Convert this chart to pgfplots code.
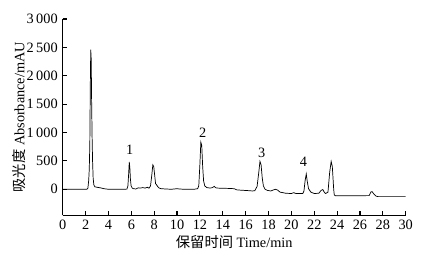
\documentclass[border=0pt]{standalone}
\usepackage{pgfplots}
\pgfplotsset{compat=1.18}
\usepackage{fontspec}
\setmainfont{Liberation Serif}
\newfontfamily\cjk{Noto Sans CJK SC}
\begin{document}
\begin{tikzpicture}
\begin{axis}[
  name=ax,
  scale only axis,
  width=240pt, height=137.4pt,
  xmin=0, xmax=30, ymin=-460, ymax=3000,
  axis x line*=bottom, axis y line*=left,
  axis line style={line width=0.8pt},
  xtick={0,2,...,30}, ytick={0,500,...,3000},
  tick align=inside,
  major tick length=3pt,
  tick style={line width=0.8pt, black},
  /pgf/number format/assume math mode=true,
  /pgf/number format/1000 sep={\,},
  tick label style={font=\fontsize{10}{12}\selectfont},
  xlabel={{\cjk 保留时间} Time/min},
  ylabel={{\cjk 吸光度} Absorbance/mAU},
  label style={font=\fontsize{10}{12}\selectfont},
  xlabel style={yshift=3pt},
  ylabel style={yshift=-6pt},
  clip=false,
]
\addplot[black, line width=0.5pt] coordinates {
(0,0) (2.1,0) (2.2,20) (2.27,150) (2.32,350) (2.37,800) (2.41,1800) (2.45,2460) (2.49,2300) (2.53,1500) (2.57,900) (2.61,500) (2.66,200) (2.72,80) (2.8,45) (3.0,35) (3.3,25) (3.6,10) (3.8,5) (4.0,0)
(5.5,0) (5.62,5) (5.7,60) (5.76,250) (5.82,480) (5.87,380) (5.92,180) (5.98,60) (6.08,20) (6.2,10) (6.4,5) (6.6,25) (6.8,20) (7.0,30) (7.2,20) (7.4,35) (7.55,20)
(7.68,60) (7.79,250) (7.88,430) (7.96,400) (8.04,250) (8.12,100) (8.2,80) (8.3,50) (8.45,20) (8.6,10) (9.0,5) (9.5,0) (10.0,10) (10.2,5) (10.6,0) (11.5,0)
(11.8,10) (11.9,60) (12.0,450) (12.08,830) (12.16,770) (12.24,400) (12.32,150) (12.42,60) (12.6,30) (12.9,20) (13.1,30) (13.25,50) (13.4,25) (13.6,20) (14.5,15) (15.0,10)
(15.2,-10) (15.5,-15) (16.3,-25) (16.6,-30) (16.8,-25) (17.0,50) (17.15,300) (17.25,490) (17.35,430) (17.45,200) (17.55,60) (17.7,0) (17.9,-20) (18.2,-30) (18.45,-10) (18.6,0) (18.8,-15)
(19.0,-50) (19.5,-70) (20.0,-75) (20.2,-60) (20.4,-75) (21.0,-75) (21.1,-30) (21.2,150) (21.3,270) (21.38,150) (21.5,10) (21.7,-50) (22.0,-75) (22.4,-70) (22.6,-20) (22.75,-5) (22.9,-60) (23.0,-75)
(23.2,-50) (23.35,300) (23.48,490) (23.58,400) (23.7,0) (23.75,-100) (23.85,-115) (25,-115) (26.8,-112) (26.95,-50) (27.05,-40) (27.2,-80) (27.4,-120) (27.6,-130) (30,-130)
};
\node[font=\fontsize{10}{12}\selectfont] at (axis cs:5.85,690) {1};
\node[font=\fontsize{10}{12}\selectfont] at (axis cs:12.25,990) {2};
\node[font=\fontsize{10}{12}\selectfont] at (axis cs:17.4,640) {3};
\node[font=\fontsize{10}{12}\selectfont] at (axis cs:21.05,480) {4};
\coordinate (ll) at (rel axis cs:0,0);
\coordinate (ur) at (rel axis cs:1,1);
\end{axis}
\pgfresetboundingbox
\path ([shift={(-43.9pt,-29.2pt)}]ll) rectangle ([shift={(16.3pt,13.3pt)}]ur);
\end{tikzpicture}
\end{document}
